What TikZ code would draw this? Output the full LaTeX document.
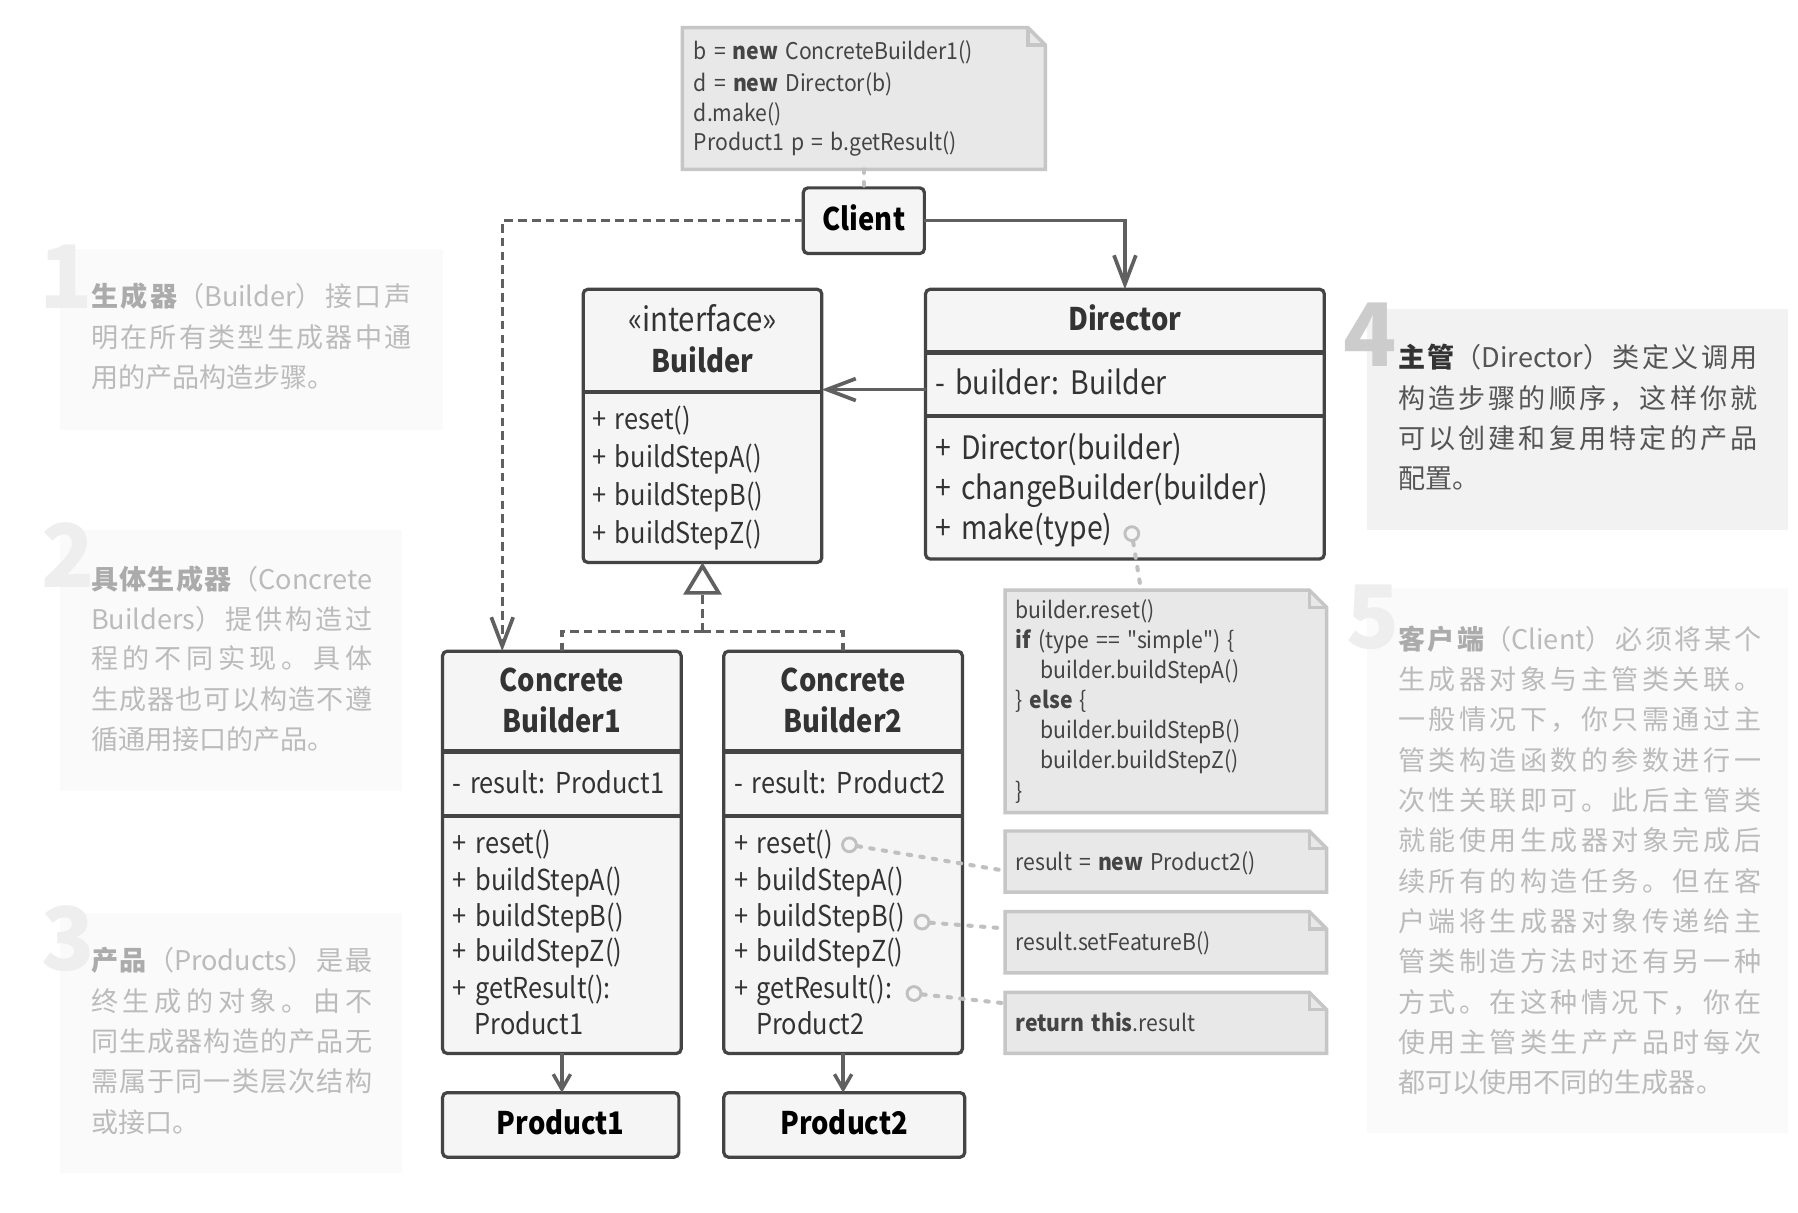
\documentclass[tikz,border=0pt]{standalone}
\usepackage{fontspec}
\setmainfont{Noto Sans CJK SC}
\newfontfamily\dgf{Noto Sans CJK SC}[FakeStretch=0.88, WordSpace=1.5]
\newfontfamily\ntf{Noto Sans CJK SC}[FakeStretch=0.92, WordSpace=1.5]
\usetikzlibrary{arrows.meta,calc}
\XeTeXinterchartokenstate=1
\count255="4E00
\loop\XeTeXcharclass\count255=5 \advance\count255 by 1 \ifnum\count255<"A000 \repeat
\XeTeXcharclass"3002=5
\XeTeXcharclass"FF0C=5
\XeTeXcharclass"FF08=5
\XeTeXcharclass"FF09=5
\XeTeXinterchartoks 5 5 = {\hskip 0pt plus 1fil\relax}
\definecolor{bd}{HTML}{444444}
\definecolor{bf}{HTML}{F5F5F5}
\definecolor{ln}{HTML}{606060}
\definecolor{tx}{HTML}{333333}
\definecolor{nf}{HTML}{E8E8E8}
\definecolor{nb}{HTML}{C6C6C6}
\definecolor{nt}{HTML}{444444}
\definecolor{dt}{HTML}{C0C0C0}
\definecolor{cPF}{HTML}{FAFAFA}
\definecolor{cPT}{HTML}{BBBBBB}
\definecolor{cPB}{HTML}{ABABAB}
\definecolor{cPN}{HTML}{EEEEEE}
\definecolor{cHF}{HTML}{F2F2F2}
\definecolor{cHT}{HTML}{555555}
\definecolor{cHB}{HTML}{333333}
\definecolor{cHN}{HTML}{CCCCCC}
\newcommand\jl[2]{\makebox[#1][s]{#2}}
\newcommand\pbo[1]{{\bfseries\color{cPB}#1}}
\newcommand\hbo[1]{{\bfseries\color{cHB}#1}}
\newcommand\notebg[1]{%
  \filldraw[fill=nf, draw=nb, line width=3pt, line join=miter] (#1.north west) -- ([xshift=-15pt]#1.north east) -- ([yshift=-15pt]#1.north east) -- (#1.south east) -- (#1.south west) -- cycle;
  \draw[nb, line width=3pt] ([xshift=-15pt]#1.north east) |- ([yshift=-15pt]#1.north east);}
\tikzset{
  cls/.style={draw=bd, fill=bf, line width=2.8pt, rounded corners=4pt, inner sep=0pt, outer sep=0pt, anchor=north west},
  csep/.style={draw=bd, line width=4pt},
  tl/.style={inner sep=0pt, outer sep=0pt, text=tx, anchor=west},
  tc/.style={inner sep=0pt, outer sep=0pt, text=tx, anchor=center},
  fA/.style={font=\dgf\fontsize{25}{30}\selectfont, text height=18.75pt, text depth=3.75pt},
  fB/.style={font=\dgf\fontsize{28}{34}\selectfont, text height=21pt, text depth=4.2pt},
  fT/.style={font=\dgf\fontsize{27}{32}\selectfont\bfseries, text height=20.25pt, text depth=4.05pt},
  fI/.style={font=\dgf\fontsize{29}{34}\selectfont, text height=21.75pt, text depth=4.35pt},
  fN/.style={font=\ntf\fontsize{20}{26}\selectfont, text height=15pt, text depth=3pt, text=nt, inner sep=0pt, outer sep=0pt, anchor=west},
  notebox/.style={inner sep=0pt, outer sep=0pt, anchor=north west},
  fP/.style={font=\fontsize{23.5}{35}\selectfont, text height=20pt, text depth=3.5pt, inner sep=0pt, outer sep=0pt, anchor=west},
  num/.style={font=\fontsize{76}{76}\selectfont\bfseries, inner sep=0pt, outer sep=0pt, anchor=base west},
  vee/.style={-{Straight Barb[length=25pt,width=19pt,line width=3.2pt]}},
  smallvee/.style={-{Straight Barb[length=13pt,width=15pt,line width=3pt]}},
  conn/.style={draw=ln, line width=3pt},
  dashedconn/.style={conn, dash pattern=on 7.5pt off 4.5pt},
  dotc/.style={draw=dt, line width=3.5pt, line cap=round, dash pattern=on 3pt off 8pt},
  circ/.style={circle, draw=dt, line width=2.5pt, minimum size=12pt, inner sep=0pt, fill=bf},
}
\begin{document}
\begin{tikzpicture}[x=1pt,y=-1pt]
\useasboundingbox[fill=white] (0,0) rectangle (1560,1051.6);

% ---------------- side panels ----------------
\fill[cPF] (52,216) rectangle (384,373);
\node[num, text=cPN] (n1) at (34,268) {1};
\node[fP, text=cPT] (p1a) at (79,258) {\jl{278pt}{\pbo{生成器}（Builder）接口声}};
\node[fP, text=cPT] (p1b) at (79,293) {\jl{278pt}{明在所有类型生成器中通}};
\node[fP, text=cPT] (p1c) at (79,328) {用的产品构造步骤。};

\fill[cPF] (52,460) rectangle (349,686);
\node[num, text=cPN] (n2) at (36,510) {2};
\node[fP, text=cPT] (p2a) at (79,503) {\jl{244pt}{\pbo{具体生成器}（Concrete}};
\node[fP, text=cPT] (p2b) at (79,538) {\jl{244pt}{Builders）提供构造过}};
\node[fP, text=cPT] (p2c) at (79,572) {\jl{244pt}{程的不同实现。具体}};
\node[fP, text=cPT] (p2d) at (79,607) {\jl{244pt}{生成器也可以构造不遵}};
\node[fP, text=cPT] (p2e) at (79,642) {循通用接口的产品。};

\fill[cPF] (52,792) rectangle (349,1018);
\node[num, text=cPN] (n3) at (36,842) {3};
\node[fP, text=cPT] (p3a) at (79,834) {\jl{244pt}{\pbo{产品}（Products）是最}};
\node[fP, text=cPT] (p3b) at (79,869) {\jl{244pt}{终生成的对象。由不}};
\node[fP, text=cPT] (p3c) at (79,904) {\jl{244pt}{同生成器构造的产品无}};
\node[fP, text=cPT] (p3d) at (79,939) {\jl{244pt}{需属于同一类层次结构}};
\node[fP, text=cPT] (p3e) at (79,974) {或接口。};

\fill[cHF] (1186,268) rectangle (1551,460);
\node[num, text=cHN] (n4) at (1166,318) {4};
\node[fP, text=cHT] (p4a) at (1213,311) {\jl{312pt}{\hbo{主管}（Director）类定义调用}};
\node[fP, text=cHT] (p4b) at (1213,346) {\jl{312pt}{构造步骤的顺序，这样你就}};
\node[fP, text=cHT] (p4c) at (1213,381) {\jl{312pt}{可以创建和复用特定的产品}};
\node[fP, text=cHT] (p4d) at (1213,416) {配置。};

\fill[cPF] (1186,510) rectangle (1551,983);
\node[num, text=cPN] (n5) at (1168,563) {5};
\node[fP, text=cPT] (p5a) at (1213,555) {\jl{315pt}{\pbo{客户端}（Client）必须将某个}};
\node[fP, text=cPT] (p5b) at (1213,590) {\jl{315pt}{生成器对象与主管类关联。}};
\node[fP, text=cPT] (p5c) at (1213,625) {\jl{315pt}{一般情况下，你只需通过主}};
\node[fP, text=cPT] (p5d) at (1213,660) {\jl{315pt}{管类构造函数的参数进行一}};
\node[fP, text=cPT] (p5e) at (1213,695) {\jl{315pt}{次性关联即可。此后主管类}};
\node[fP, text=cPT] (p5f) at (1213,730) {\jl{315pt}{就能使用生成器对象完成后}};
\node[fP, text=cPT] (p5g) at (1213,765) {\jl{315pt}{续所有的构造任务。但在客}};
\node[fP, text=cPT] (p5h) at (1213,800) {\jl{315pt}{户端将生成器对象传递给主}};
\node[fP, text=cPT] (p5i) at (1213,835) {\jl{315pt}{管类制造方法时还有另一种}};
\node[fP, text=cPT] (p5j) at (1213,870) {\jl{315pt}{方式。在这种情况下，你在}};
\node[fP, text=cPT] (p5k) at (1213,905) {\jl{315pt}{使用主管类生产产品时每次}};
\node[fP, text=cPT] (p5l) at (1213,940) {都可以使用不同的生成器。};

% ---------------- notes ----------------
\node[notebox, minimum width=315pt, minimum height=123pt] (note1) at (592,24) {};
\notebg{note1}
\node[fN] (t1a) at (602,46) {b = \textbf{new} ConcreteBuilder1()};
\node[fN] (t1b) at (602,73) {d = \textbf{new} Director(b)};
\node[fN] (t1c) at (602,99) {d.make()};
\node[fN] (t1d) at (602,125) {Product1 p = b.getResult()};

\node[notebox, minimum width=279pt, minimum height=193pt] (note2) at (872,512) {};
\notebg{note2}
\node[fN] (t2a) at (881,531) {builder.reset()};
\node[fN] (t2b) at (881,557) {\textbf{if} (type == "simple") \{};
\node[fN] (t2c) at (903,583) {builder.buildStepA()};
\node[fN] (t2d) at (881,609) {\} \textbf{else} \{};
\node[fN] (t2e) at (903,635) {builder.buildStepB()};
\node[fN] (t2f) at (903,661) {builder.buildStepZ()};
\node[fN] (t2g) at (881,688) {\}};

\node[notebox, minimum width=279pt, minimum height=53pt] (note3) at (872,721) {};
\notebg{note3}
\node[fN] (t3) at (881,749) {result = \textbf{new} Product2()};

\node[notebox, minimum width=279pt, minimum height=53pt] (note4) at (872,791) {};
\notebg{note4}
\node[fN] (t4) at (881,819) {result.setFeatureB()};

\node[notebox, minimum width=279pt, minimum height=53pt] (note5) at (872,861) {};
\notebg{note5}
\node[fN] (t5) at (881,889) {\textbf{return this}.result};

% ---------------- classes ----------------
\node[cls, minimum width=105pt, minimum height=57pt, fT] (client) at (697,163) {Client};

\node[cls, minimum width=207pt, minimum height=237pt] (builder) at (506,251) {};
\draw[csep] (506,340) -- (713,340);
\node[tc, fI] (bI) at (609.5,279) {«interface»};
\node[tc, fT] (bT) at (609.5,315) {Builder};
\node[tl, fA] (b1) at (514,365) {+ reset()};
\node[tl, fA] (b2) at (514,398) {+ buildStepA()};
\node[tl, fA] (b3) at (514,431) {+ buildStepB()};
\node[tl, fA] (b4) at (514,464) {+ buildStepZ()};

\node[cls, minimum width=346pt, minimum height=234pt] (director) at (803,251) {};
\draw[csep] (803,306) -- (1149,306);
\draw[csep] (803,361) -- (1149,361);
\node[tc, fT] (dT) at (976,279) {Director};
\node[tl, fB] (d0) at (812,334) {- builder: Builder};
\node[tl, fB] (d1) at (812,390) {+ Director(builder)};
\node[tl, fB] (d2) at (812,425) {+ changeBuilder(builder)};
\node[tl, fB] (d3) at (812,460) {+ make(type)};

\node[cls, minimum width=207pt, minimum height=349pt] (cb1) at (384,565) {};
\draw[csep] (384,652) -- (591,652);
\draw[csep] (384,708) -- (591,708);
\node[tc, fT] (c1T1) at (487.5,592) {Concrete};
\node[tc, fT] (c1T2) at (487.5,627) {Builder1};
\node[tl, fA] (c1f) at (393,681) {- result: Product1};
\node[tl, fA] (c1a) at (393,733) {+ reset()};
\node[tl, fA] (c1b) at (393,765) {+ buildStepA()};
\node[tl, fA] (c1c) at (393,796) {+ buildStepB()};
\node[tl, fA] (c1d) at (393,827) {+ buildStepZ()};
\node[tl, fA] (c1e) at (393,859) {+ getResult():};
\node[tl, fA] (c1g) at (412,890) {Product1};

\node[cls, minimum width=207pt, minimum height=349pt] (cb2) at (628,565) {};
\draw[csep] (628,652) -- (835,652);
\draw[csep] (628,708) -- (835,708);
\node[tc, fT] (c2T1) at (731.5,592) {Concrete};
\node[tc, fT] (c2T2) at (731.5,627) {Builder2};
\node[tl, fA] (c2f) at (637,681) {- result: Product2};
\node[tl, fA] (c2a) at (637,733) {+ reset()};
\node[tl, fA] (c2b) at (637,765) {+ buildStepA()};
\node[tl, fA] (c2c) at (637,796) {+ buildStepB()};
\node[tl, fA] (c2d) at (637,827) {+ buildStepZ()};
\node[tl, fA] (c2e) at (637,859) {+ getResult():};
\node[tl, fA] (c2g) at (656,890) {Product2};

\node[cls, minimum width=205pt, minimum height=56pt, fT] (prod1) at (384,948) {Product1};
\node[cls, minimum width=209pt, minimum height=56pt, fT] (prod2) at (628,948) {Product2};

% ---------------- circles ----------------
\node[circ] (cmake) at (982,463) {};
\node[circ] (creset) at (737,733) {};
\node[circ] (cstepb) at (800,800) {};
\node[circ] (cget) at (793,862) {};

% ---------------- connectors ----------------
\draw[dotc] (note1.south) -- (client.north);
\coordinate (n2t) at ($(note2.north west)+(118,0)$);
\draw[dotc] (cmake) -- (n2t);
\draw[dotc] (creset) -- ([yshift=-8pt]note3.west);
\draw[dotc] (cstepb) -- ([yshift=12pt]note4.west);
\draw[dotc] (cget) -- ([yshift=17pt]note5.west);

\draw[dashedconn, vee] (client.west) -| ($(cb1.north west)!0.25!(cb1.north east)$);
\draw[conn, vee] (client.east) -| (director.north);
\coordinate (dl) at (803,338);
\draw[conn, vee] (dl) -- (dl -| builder.east);

\coordinate (ij) at (609.5,548);
\draw[dashedconn] (cb1.north) |- (ij);
\draw[dashedconn] (cb2.north) |- (ij);
\draw[dashedconn, -{Triangle[open, fill=white, length=28pt, width=33pt, line width=3.2pt]}] (ij) -- (builder.south);

\draw[conn, smallvee] (cb1.south) -- (cb1.south |- prod1.north);
\draw[conn, smallvee] (cb2.south) -- (cb2.south |- prod2.north);
\end{tikzpicture}
\end{document}
